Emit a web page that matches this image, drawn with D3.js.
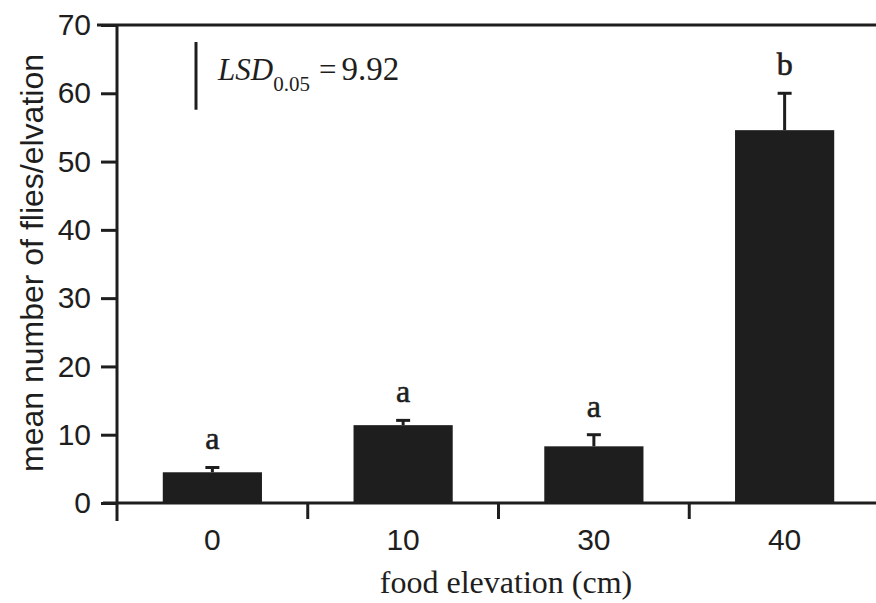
<!DOCTYPE html>
<html>
<head>
<meta charset="utf-8">
<script src="https://cdn.jsdelivr.net/npm/d3@7"></script>
<style>
  html, body { margin: 0; padding: 0; background: #fff; }
  svg { display: block; }
</style>
</head>
<body>
<div id="chart"></div>
<script>
// Data
const categories = ['0', '10', '30', '40'];
const means = [4.5, 11.4, 8.3, 54.6];
const errTops = [5.2, 12.1, 10.0, 60.0];
const groupLetters = ['a', 'a', 'a', 'b'];
const yTicks = [0, 10, 20, 30, 40, 50, 60, 70];
const lsd = 9.92;

const width = 876;
const height = 603;
const margin = { top: 25, left: 117, bottom: 100 };
const innerH = height - margin.top - margin.bottom;
const ink = '#1e1e1e';
const serif = '"Liberation Serif", "DejaVu Serif", serif';
const sans = '"Liberation Sans", Arial, sans-serif';

const svg = d3.select('#chart')
  .append('svg')
  .attr('width', width)
  .attr('height', height);

const g = svg.append('g')
  .attr('transform', `translate(${margin.left},${margin.top})`);

// Scales
const x = d3.scaleBand().domain(categories).range([0, 763]).paddingInner(0.48).paddingOuter(0.24);
const y = d3.scaleLinear().domain([0, 70]).range([innerH, 0]);

// Bars
g.selectAll('.bar')
  .data(means)
  .enter()
  .append('rect')
  .attr('x', (d, i) => x(categories[i]))
  .attr('y', (d) => y(d))
  .attr('width', x.bandwidth())
  .attr('height', (d) => y(0) - y(d))
  .attr('fill', ink);

// Error bars (upper only) and group letters
const cap = 7;
errTops.forEach((e, i) => {
  const cx = x(categories[i]) + x.bandwidth() / 2;
  g.append('line')
    .attr('x1', cx).attr('x2', cx)
    .attr('y1', y(means[i])).attr('y2', y(e))
    .attr('stroke', ink).attr('stroke-width', 3);
  g.append('line')
    .attr('x1', cx - cap).attr('x2', cx + cap)
    .attr('y1', y(e)).attr('y2', y(e))
    .attr('stroke', ink).attr('stroke-width', 3);
  g.append('text')
    .attr('x', cx)
    .attr('y', y(e) - 18)
    .attr('text-anchor', 'middle')
    .style('font-family', serif)
    .style('font-size', '32px')
    .attr('fill', ink)
    .attr('stroke', ink)
    .attr('stroke-width', 0.6)
    .text(groupLetters[i]);
});

// Y axis
const yAxis = g.append('g')
  .call(d3.axisLeft(y).tickValues(yTicks).tickSize(16).tickPadding(10));
yAxis.select('.domain').remove();
yAxis.append('line')
  .attr('x1', 0).attr('x2', 0)
  .attr('y1', y(70)).attr('y2', y(0) + 18)
  .attr('stroke', ink).attr('stroke-width', 3);
yAxis.selectAll('.tick line').attr('stroke', ink).attr('stroke-width', 3);
yAxis.selectAll('.tick text')
  .attr('fill', ink)
  .style('font-family', sans)
  .style('font-size', '30px');

// X axis: baseline, ticks between categories
const xAxis = g.append('g').attr('transform', `translate(0,${y(0)})`);
xAxis.append('line')
  .attr('x1', -14).attr('x2', width)
  .attr('y1', 0).attr('y2', 0)
  .attr('stroke', ink).attr('stroke-width', 3);
const step = x.step();
xAxis.selectAll('.sep')
  .data(categories.slice(1))
  .enter()
  .append('line')
  .attr('x1', (d) => x(d) - (step - x.bandwidth()) / 2)
  .attr('x2', (d) => x(d) - (step - x.bandwidth()) / 2)
  .attr('y1', 0).attr('y2', 16)
  .attr('stroke', ink).attr('stroke-width', 3);
xAxis.selectAll('.lab')
  .data(categories)
  .enter()
  .append('text')
  .attr('x', (d) => x(d) + x.bandwidth() / 2)
  .attr('y', 47)
  .attr('text-anchor', 'middle')
  .attr('fill', ink)
  .style('font-family', sans)
  .style('font-size', '30px')
  .text((d) => d);

// Top frame line
g.append('line')
  .attr('x1', -20).attr('x2', width)
  .attr('y1', 0).attr('y2', 0)
  .attr('stroke', ink).attr('stroke-width', 3);

// LSD scale bar
const lsdX = 79;
const lsdTop = 17;
g.append('line')
  .attr('x1', lsdX).attr('x2', lsdX)
  .attr('y1', lsdTop).attr('y2', lsdTop + (y(0) - y(lsd)))
  .attr('stroke', ink).attr('stroke-width', 3);
const lsdText = g.append('text')
  .attr('x', 101)
  .attr('y', 55)
  .attr('fill', ink)
  .style('font-family', serif)
  .style('font-size', '31px');
lsdText.append('tspan').style('font-style', 'italic').text('LSD');
lsdText.append('tspan').attr('dy', 11).style('font-size', '21px').text('0.05');
lsdText.append('tspan').attr('dy', -11).attr('dx', 9).text('=');
lsdText.append('tspan').attr('dx', 5).style('font-size', '33px').text('9.92');

// Axis titles
svg.append('text')
  .attr('transform', `translate(43,263) rotate(-90)`)
  .attr('text-anchor', 'middle')
  .attr('fill', ink)
  .style('font-family', sans)
  .style('font-size', '32px')
  .text('mean number of flies/elvation');

svg.append('text')
  .attr('x', 506)
  .attr('y', 593)
  .attr('text-anchor', 'middle')
  .attr('fill', ink)
  .style('font-family', serif)
  .style('font-size', '32px')
  .text('food elevation (cm)');
</script>
</body>
</html>
